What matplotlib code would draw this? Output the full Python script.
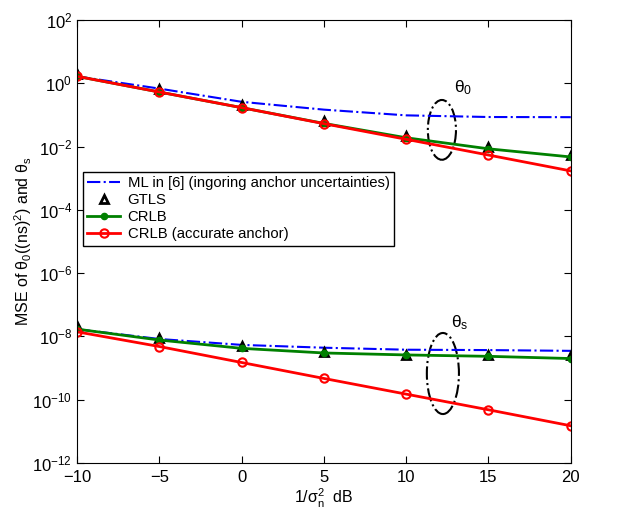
import numpy as np
import matplotlib.pyplot as plt
from matplotlib.patches import Ellipse

plt.rcParams['font.family'] = ['Liberation Sans', 'DejaVu Sans']
plt.rcParams['mathtext.fontset'] = 'custom'
plt.rcParams['mathtext.rm'] = 'Liberation Sans'
plt.rcParams['mathtext.it'] = 'Liberation Sans:italic'
plt.rcParams['mathtext.sf'] = 'Liberation Sans'

# dados
snr = [-10, -5, 0, 5, 10, 15, 20]

# theta_0
ml_t0 = [1.66, 0.68, 0.26, 0.147, 0.097, 0.086, 0.085]
gtls_t0 = [2.0, 0.65, 0.2, 0.064, 0.022, 0.0097, 0.0053]
crlb_t0 = [1.66, 0.53, 0.17, 0.054, 0.019, 0.0085, 0.0047]
crlb_acc_t0 = [1.66, 0.53, 0.17, 0.053, 0.017, 0.0054, 0.0017]

# theta_s
ml_ts = [1.7e-8, 8.3e-9, 5.4e-9, 4.4e-9, 3.8e-9, 3.7e-9, 3.5e-9]
gtls_ts = [2.2e-8, 8.9e-9, 5.1e-9, 3.2e-9, 2.6e-9, 2.6e-9, 2.6e-9]
crlb_ts = [1.7e-8, 7.7e-9, 4.2e-9, 3.0e-9, 2.6e-9, 2.35e-9, 2.0e-9]
crlb_acc_ts = [1.4e-8, 4.8e-9, 1.5e-9, 4.7e-10, 1.5e-10, 4.8e-11, 1.5e-11]

fig = plt.figure(figsize=(6.18, 5.08), dpi=100)
ax = fig.add_axes([0.1246, 0.0886, 0.799, 0.872])

for ml, gt, cr, ca in [(ml_t0, gtls_t0, crlb_t0, crlb_acc_t0),
                       (ml_ts, gtls_ts, crlb_ts, crlb_acc_ts)]:
    ax.semilogy(snr, ml, color='blue', linestyle='-.', linewidth=1.5,
                label='ML in [6] (ingoring anchor uncertainties)')
    ax.semilogy(snr, gt, color='k', linestyle='none', marker='^',
                markerfacecolor='none', markeredgewidth=2, markersize=6,
                label='GTLS')
    ax.semilogy(snr, cr, color='green', linewidth=2, marker='.',
                markersize=9, label='CRLB')
    ax.semilogy(snr, ca, color='red', linewidth=2, marker='o',
                markerfacecolor='none', markeredgewidth=1.5, markersize=6,
                label='CRLB (accurate anchor)')

# elipses
ax.add_patch(Ellipse((0.739, 0.752), 0.057, 0.135, transform=ax.transAxes,
                     fill=False, edgecolor='k', linestyle='-.', linewidth=1.5))
ax.add_patch(Ellipse((0.741, 0.202), 0.065, 0.183, transform=ax.transAxes,
                     fill=False, edgecolor='k', linestyle='-.', linewidth=1.5))
ax.text(0.763, 0.837, '\u03b8$_0$', transform=ax.transAxes, fontsize=12.5)
ax.text(0.758, 0.307, '\u03b8$_\\mathrm{s}$', transform=ax.transAxes, fontsize=12.5)

ax.set_xlim(-10, 20)
ax.set_ylim(1e-12, 1e2)
ax.set_xticks(snr)
ax.set_xticklabels(['\u221210', '\u22125', '0', '5', '10', '15', '20'])
ax.set_yticks([10.0 ** k for k in range(-12, 3, 2)])
ax.minorticks_off()
ax.tick_params(direction='in', top=True, right=True, labelsize=12, length=5)
ax.tick_params(axis='x', pad=5)
ax.set_xlabel('1/\u03c3$_\\mathrm{n}^2$  dB', fontsize=11.5, labelpad=1)
ax.set_ylabel('MSE of \u03b8$_0$((ns)$^2$) and \u03b8$_\\mathrm{s}$', fontsize=11.5)
ax.yaxis.set_label_coords(-0.088, 0.5)

h, l = ax.get_legend_handles_labels()
ax.legend(h[:4], l[:4], loc='upper left', bbox_to_anchor=(0.012, 0.657),
          fontsize=10.7, fancybox=False, edgecolor='k', framealpha=1,
          borderaxespad=0, handlelength=2.2, labelspacing=0.2,
          borderpad=0.3, handletextpad=0.5)

fig.savefig('out.png', dpi=100)
